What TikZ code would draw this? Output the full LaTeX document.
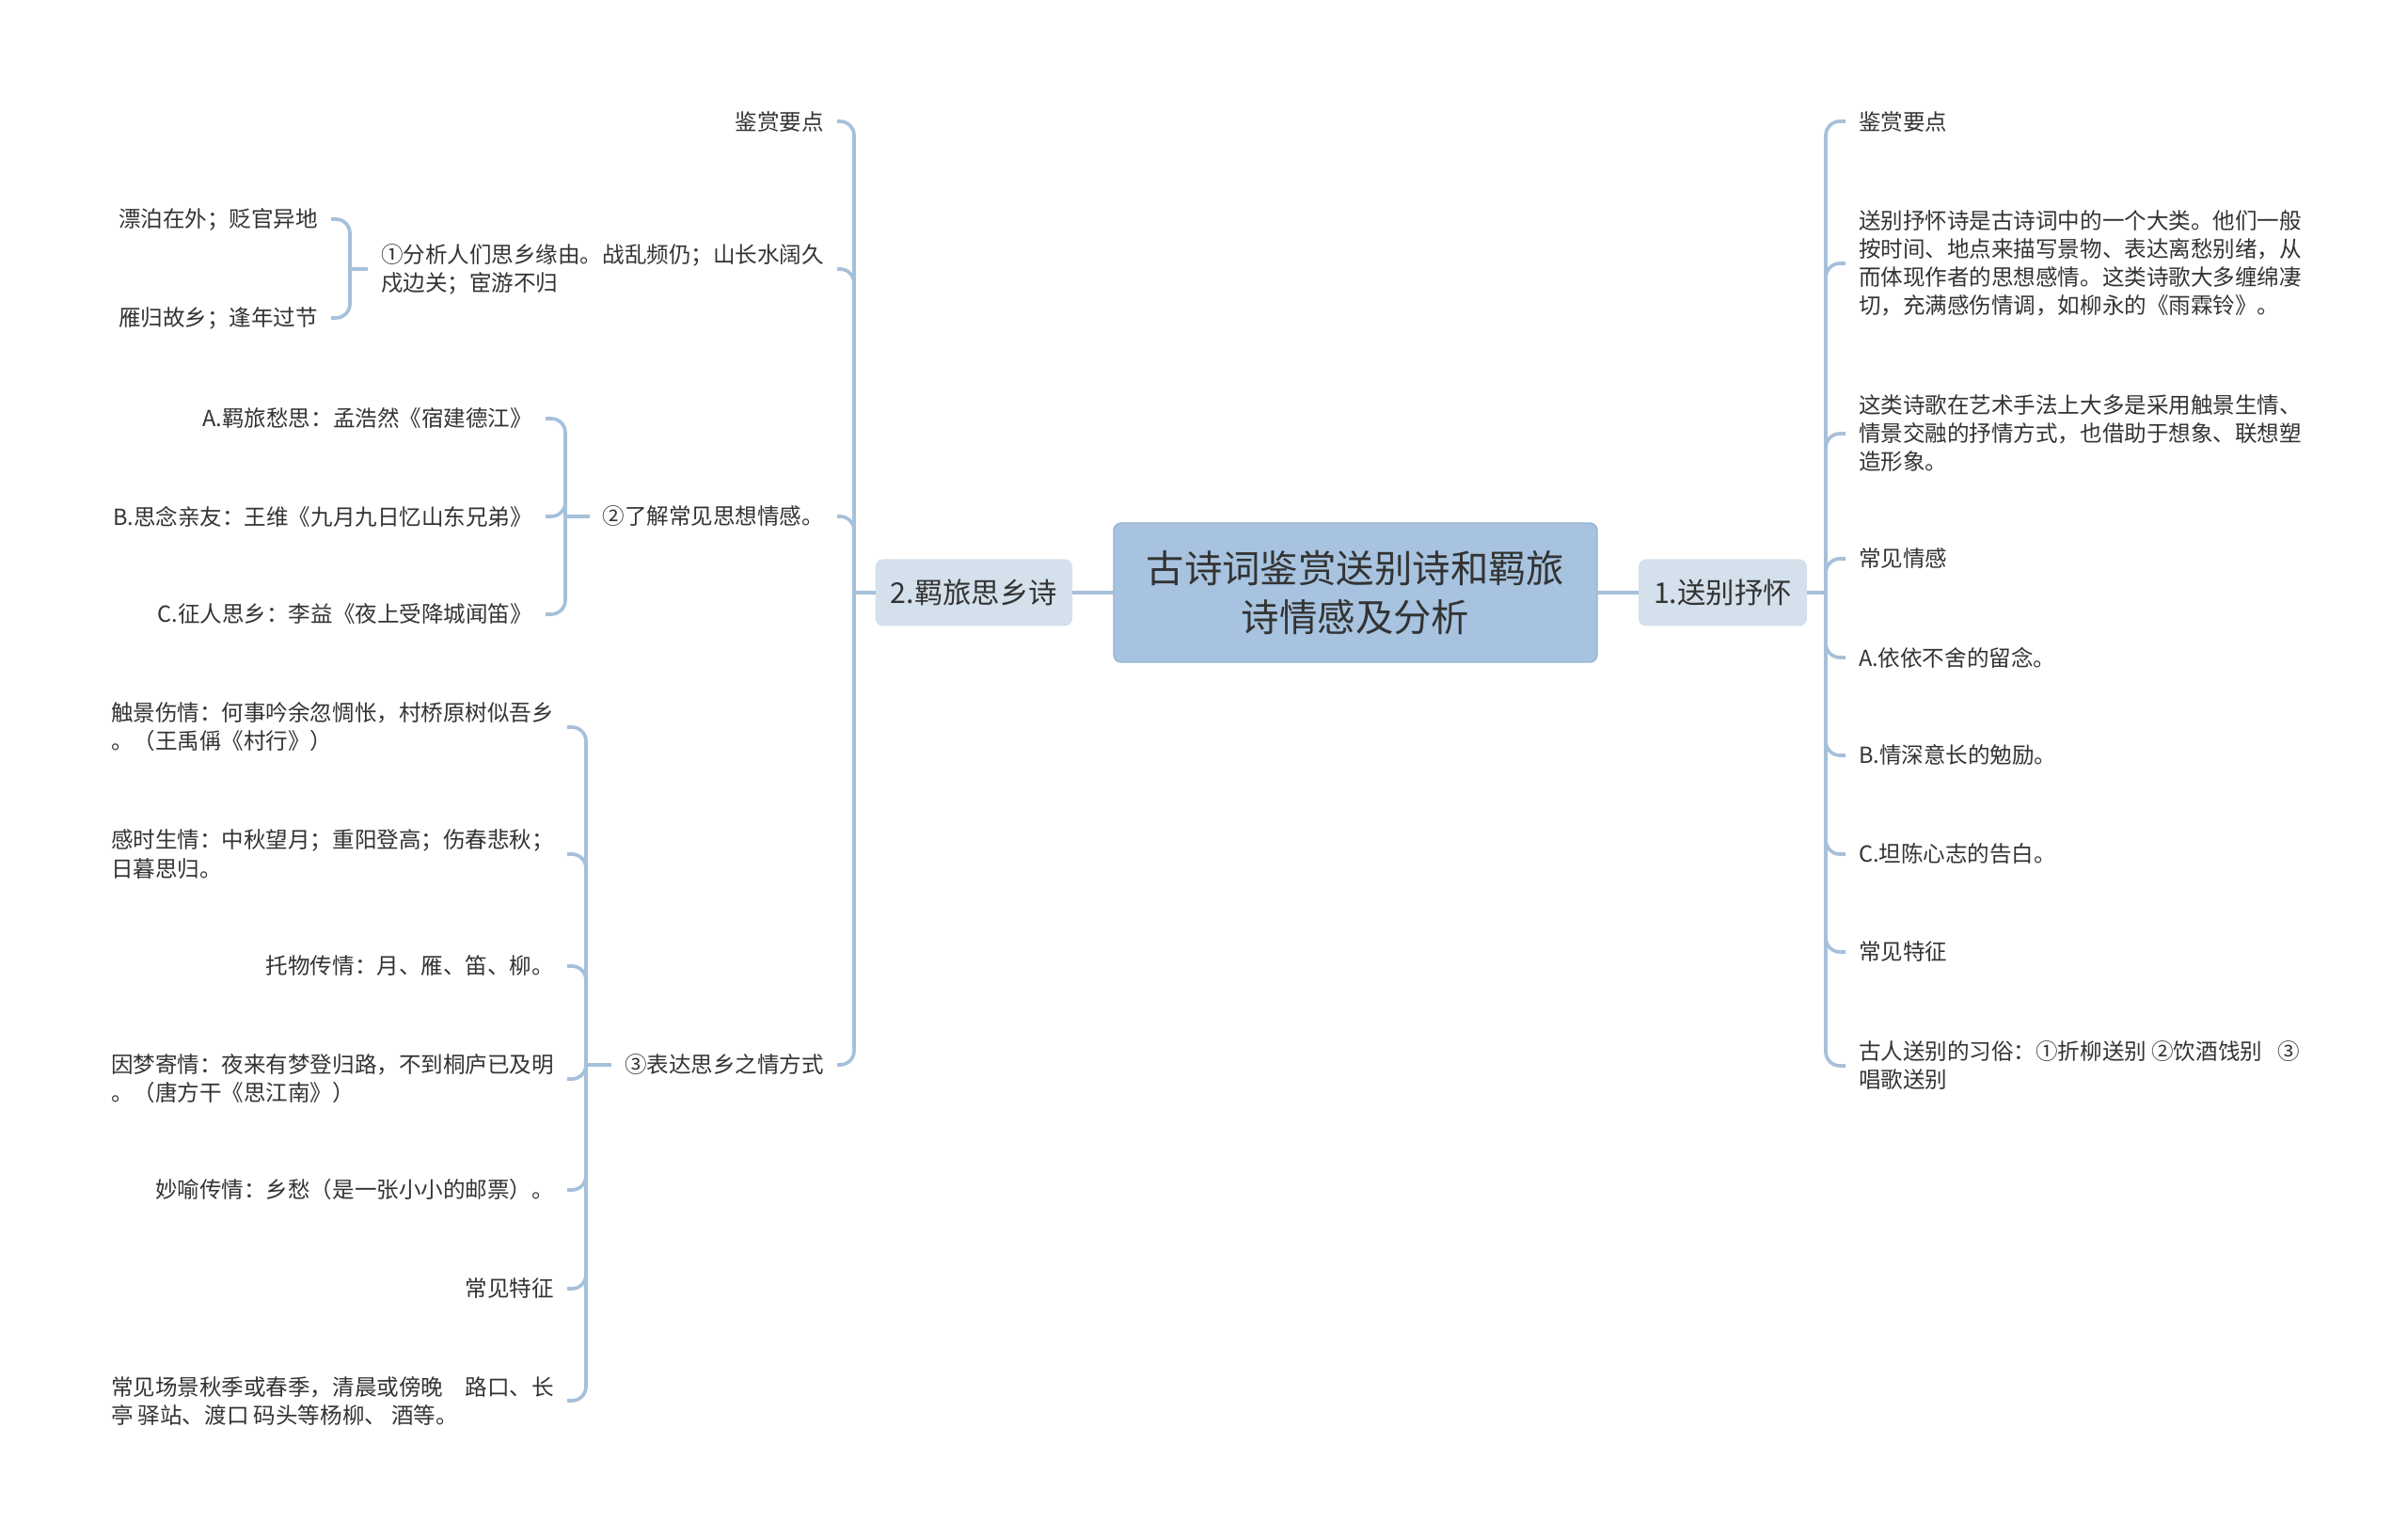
\documentclass[tikz,border=0pt]{standalone}
\usepackage{fontspec}
\setmainfont{Noto Sans CJK SC}
\newcommand{\leaffont}{\fontsize{6.7}{8.55}\selectfont}
\newcommand{\topicfont}{\fontsize{8.65}{10.4}\selectfont}
\newcommand{\rootfont}{\fontsize{11.5}{14.8}\selectfont}

\begin{document}
\begin{tikzpicture}[
  every node/.style={inner sep=0pt, outer sep=0pt},
  leaf/.style={font=\leaffont, text=TextDark, align=left, inner xsep=0.14cm, inner ysep=0.04cm},
  topic/.style={font=\topicfont, text=TextDark, fill=TopicBg, rounded corners=0.08cm, inner xsep=0.16cm, minimum height=0.71cm},
  root/.style={font=\rootfont, text=TextDark, fill=RootBg, draw=RootFrame, line width=0.4pt, rounded corners=0.08cm, align=center, minimum width=5.14cm, minimum height=1.48cm},
  link/.style={draw=LinkLine, line width=1.05pt},
  elbow/.style={link, rounded corners=0.15cm},
]

% ── colors ──
\definecolor{TextDark}{HTML}{333333}
\definecolor{RootBg}{HTML}{A7C3DF}
\definecolor{RootFrame}{HTML}{96B3D1}
\definecolor{TopicBg}{HTML}{D4E0EB}
\definecolor{LinkLine}{HTML}{A6C0DA}

\useasboundingbox (0.00,0.00) rectangle (25.60,-16.35);

% ── centre ──
\node[root] (root) at (14.41,-6.30) {古诗词鉴赏送别诗和羁旅\\诗情感及分析};
\node[topic, anchor=west] (b1) at (17.42,-6.30) {1.送别抒怀};
\node[topic, anchor=east] (b2) at (11.40,-6.30) {2.羁旅思乡诗};
\draw[link] (root) -- (b1);
\draw[link] (root) -- (b2);

% ── 1.送别抒怀 ──
\coordinate (s1) at (19.41,-6.30);
\node[leaf, anchor=west] (r1) at (19.62,-1.29) {鉴赏要点};
\node[leaf, anchor=west] (r2) at (19.62,-2.80) {送别抒怀诗是古诗词中的一个大类。他们一般\\按时间、地点来描写景物、表达离愁别绪，从\\而体现作者的思想感情。这类诗歌大多缠绵凄\\切，充满感伤情调，如柳永的《雨霖铃》。};
\node[leaf, anchor=west] (r3) at (19.62,-4.61) {这类诗歌在艺术手法上大多是采用触景生情、\\情景交融的抒情方式，也借助于想象、联想塑\\造形象。};
\node[leaf, anchor=west] (r4) at (19.62,-5.94) {常见情感};
\node[leaf, anchor=west] (r5) at (19.62,-6.99) {A.依依不舍的留念。};
\node[leaf, anchor=west] (r6) at (19.62,-8.03) {B.情深意长的勉励。};
\node[leaf, anchor=west] (r7) at (19.62,-9.08) {C.坦陈心志的告白。};
\node[leaf, anchor=west] (r8) at (19.62,-10.12) {常见特征};
\node[leaf, anchor=west] (r9) at (19.62,-11.33) {古人送别的习俗：①折柳送别 ②饮酒饯别\hspace{0.7em}③\\唱歌送别};
\draw[link] (b1) -- (s1);
\foreach \n in {r1,r2,r3,r4,r5,r6,r7,r8,r9}
  \draw[elbow] (s1) |- (\n.west);

% ── 2.羁旅思乡诗 ──
\coordinate (s2) at (9.08,-6.30);
\node[leaf, anchor=east] (l1) at (8.90,-1.29) {鉴赏要点};
\node[leaf, anchor=east] (l2) at (8.90,-2.86) {①分析人们思乡缘由。战乱频仍；山长水阔久\\戍边关；宦游不归};
\node[leaf, anchor=east] (l3) at (8.90,-5.49) {②了解常见思想情感。};
\node[leaf, anchor=east] (l4) at (8.90,-11.32) {③表达思乡之情方式};
\draw[link] (b2) -- (s2);
\foreach \n in {l1,l2,l3,l4}
  \draw[elbow] (s2) |- (\n.east);

% ①
\coordinate (s21) at (3.72,-2.86);
\node[leaf, anchor=east] (l2a) at (3.52,-2.33) {漂泊在外；贬官异地};
\node[leaf, anchor=east] (l2b) at (3.52,-3.38) {雁归故乡；逢年过节};
\draw[link] (l2) -- (s21);
\foreach \n in {l2a,l2b}
  \draw[elbow] (s21) |- (\n.east);

% ②
\coordinate (s22) at (6.01,-5.49);
\node[leaf, anchor=east] (l3a) at (5.80,-4.45) {A.羁旅愁思：孟浩然《宿建德江》};
\node[leaf, anchor=east] (l3b) at (5.80,-5.49) {B.思念亲友：王维《九月九日忆山东兄弟》};
\node[leaf, anchor=east] (l3c) at (5.80,-6.53) {C.征人思乡：李益《夜上受降城闻笛》};
\draw[link] (l3) -- (s22);
\foreach \n in {l3a,l3b,l3c}
  \draw[elbow] (s22) |- (\n.east);

% ③
\coordinate (s23) at (6.23,-11.32);
\node[leaf, anchor=east] (l4a) at (6.03,-7.73) {触景伤情：何事吟余忽惆怅，村桥原树似吾乡\\。（王禹偁《村行》）};
\node[leaf, anchor=east] (l4b) at (6.03,-9.08) {感时生情：中秋望月；重阳登高；伤春悲秋；\\日暮思归。};
\node[leaf, anchor=east] (l4c) at (6.03,-10.27) {托物传情：月、雁、笛、柳。};
\node[leaf, anchor=east] (l4d) at (6.03,-11.47) {因梦寄情：夜来有梦登归路，不到桐庐已及明\\。（唐方干《思江南》）};
\node[leaf, anchor=east] (l4e) at (6.03,-12.65) {妙喻传情：乡愁（是一张小小的邮票）。};
\node[leaf, anchor=east] (l4f) at (6.03,-13.70) {常见特征};
\node[leaf, anchor=east] (l4g) at (6.03,-14.89) {常见场景秋季或春季，清晨或傍晚\hspace{1em}路口、长\\亭 驿站、渡口 码头等杨柳、 酒等。};
\draw[link] (l4) -- (s23);
\foreach \n in {l4a,l4b,l4c,l4d,l4e,l4f,l4g}
  \draw[elbow] (s23) |- (\n.east);

\end{tikzpicture}
\end{document}
